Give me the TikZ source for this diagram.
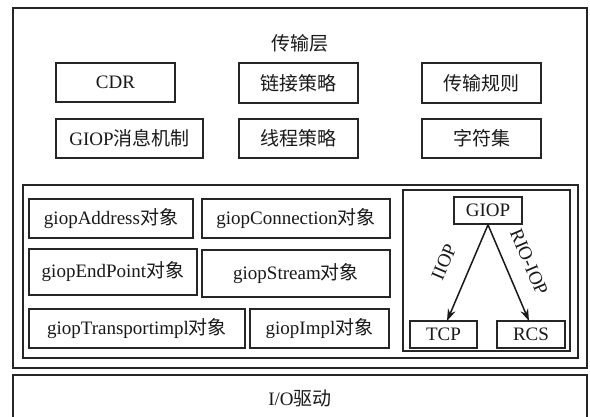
\documentclass[tikz,border=0pt]{standalone}
\usepackage{fontspec}
\setmainfont{Liberation Serif}
\newfontfamily\cjk{Noto Sans CJK SC}
\usetikzlibrary{arrows.meta}
\begin{document}
\begin{tikzpicture}[x=1pt,y=-1pt,
  box/.style={draw=black!85, line width=1.6pt, inner sep=0pt, text=black!90},
  txt/.style={inner sep=0pt, text=black!90},
  arr/.style={draw=black!90, line width=1.5pt, -{Stealth[length=12pt,width=8pt]}},
  every node/.append style={font=\fontsize{19}{22}\selectfont}]
\useasboundingbox (0,0) rectangle (590,417);
\fill[white] (0,0) rectangle (590,417);
% outer transport layer
\node[box, minimum width=574pt, minimum height=360pt] (layer) at (300,188) {};
\node[txt] (title) at (300,43) {\cjk 传输层};
% top modules
\node[box, minimum width=119pt, minimum height=39pt] (cdr) at (115.5,82.5) {CDR};
\node[box, minimum width=119pt, minimum height=40pt] (link) at (298.5,83) {\cjk 链接策略};
\node[box, minimum width=119pt, minimum height=40pt] (rule) at (481.5,83) {\cjk 传输规则};
\node[box, minimum width=147pt, minimum height=39pt] (msg) at (129.5,138.5) {GIOP{\cjk 消息机制}};
\node[box, minimum width=119pt, minimum height=39pt] (thread) at (298.5,138.5) {\cjk 线程策略};
\node[box, minimum width=119pt, minimum height=39pt] (charset) at (481.5,138.5) {\cjk 字符集};
% inner object container
\node[box, minimum width=555pt, minimum height=173pt] (inner) at (300.5,271.5) {};
\node[box, minimum width=164pt, minimum height=39pt] (addr) at (111,218.5) {giopAddress{\cjk 对象}};
\node[box, minimum width=188pt, minimum height=39pt] (conn) at (296,218.5) {giopConnection{\cjk 对象}};
\node[box, minimum width=168pt, minimum height=46pt] (endp) at (113,272) {giopEndPoint{\cjk 对象}};
\node[box, minimum width=188pt, minimum height=47pt] (stream) at (296,273.5) {giopStream{\cjk 对象}};
\node[box, minimum width=216pt, minimum height=39pt] (trans) at (137,328.5) {giopTransportimpl{\cjk 对象}};
\node[box, minimum width=139pt, minimum height=39pt] (impl) at (319.5,328.5) {giopImpl{\cjk 对象}};
% protocol sub-box
\node[box, minimum width=167pt, minimum height=161pt] (sub) at (486.5,270.5) {};
\node[box, minimum width=68pt, minimum height=27pt] (giop) at (488,210.5) {GIOP};
\node[box, minimum width=67pt, minimum height=27pt] (tcp) at (443.5,334.5) {TCP};
\node[box, minimum width=68pt, minimum height=27pt] (rcs) at (531,334.5) {RCS};
\coordinate (tcpin) at (447,321);
\coordinate (rcsin) at (529,321);
\draw[arr] (giop.south) -- (tcpin);
\draw[arr] (giop.south) -- (rcsin);
\node[txt, rotate=67] (iiop) at (444,262) {IIOP};
\node[txt, rotate=-67] (rioiop) at (529,262) {RIO-IOP};
% I/O driver
\begin{scope}
\clip (0,0) rectangle (590,417);
\node[box, minimum width=574pt, minimum height=56pt, anchor=north] (io) at (300,374) {};
\end{scope}
\node[txt] (iotext) at (300,398) {I/O{\cjk 驱动}};
\end{tikzpicture}
\end{document}
